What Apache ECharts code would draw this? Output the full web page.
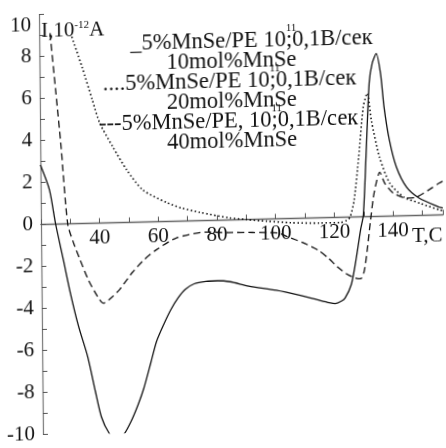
<!DOCTYPE html>
<html>
<head>
<meta charset="utf-8">
<script src="https://cdn.jsdelivr.net/npm/echarts@6/dist/echarts.min.js"></script>
<style>
  html, body { margin: 0; padding: 0; background: #fff; }
  /* the scanned figure is slightly skewed, follow it */
  #mychart {
    width: 446px;
    height: 448px;
    transform-origin: 41px 224.5px;
    transform: matrix(1, -0.024, 0.0094, 1, 0, 0);
  }
</style>
</head>
<body>
<div id="mychart"></div>
<script>
// 10 mol% MnSe (solid)
var tempA = [20, 23, 25, 27.5, 29.8, 32.5, 35.5, 38, 40, 42.5, 45, 47.5, 50, 52.5, 54.5, 57, 59, 61.5, 64, 66.5, 69, 72, 76, 80, 84.2, 90.6, 100, 107.5, 114, 118, 120, 122, 123.4, 125.6, 127.3, 128.9, 129.9, 131, 132.3, 133.4, 134.8, 136.2, 137.3, 139, 141.3, 144.7, 149, 155.8, 157];
var curA  = [2.83, 1.64, 0, -1.7, -3.3, -4.9, -6.35, -8.0, -9.24, -10.0, -10.3, -10.1, -9.5, -8.7, -7.93, -6.7, -5.7, -4.9, -4.2, -3.65, -3.25, -3.0, -2.9, -2.88, -2.94, -3.17, -3.4, -3.65, -3.9, -4.05, -4.1, -4.0, -3.85, -3.2, -2.0, -0.62, 0.08, 2.9, 6.36, 7.3, 7.76, 6.8, 5.2, 3.62, 2.33, 1.36, 0.82, 0.37, 0.33];

// 20 mol% MnSe (dotted)
var tempB = [31.1, 34.5, 37.9, 40.3, 44.7, 49.4, 54.8, 62.9, 68, 74, 84.2, 90, 97, 105, 115, 122, 124.2, 125.4, 126.8, 128.5, 130.2, 131.6, 132.9, 135.6, 139, 143.8, 149.2, 156, 157];
var curB  = [8.9, 7.45, 5.87, 4.78, 3.62, 2.5, 1.53, 0.9, 0.62, 0.4, 0.1, 0.0, -0.1, -0.2, -0.25, -0.25, -0.15, 0.0, 0.8, 2.85, 5.22, 5.87, 4.6, 2.82, 1.57, 0.88, 0.58, 0.23, 0.2];

// 40 mol% MnSe (dashed)
var tempC = [23.7, 25.5, 27.1, 29.1, 31, 33.2, 36, 39, 41, 44.3, 46.7, 51.1, 55, 59.2, 66, 76.2, 84, 92, 100.8, 104.2, 109, 114.3, 118, 121, 124, 126.8, 128.8, 130, 131.1, 132.2, 133.4, 134.4, 135.6, 137.3, 140.3, 144.7, 148.1, 152.5, 155.8, 157];
var curC  = [9.1, 6.25, 3.67, 0, -0.9, -1.72, -2.7, -3.48, -3.82, -3.5, -3.17, -2.37, -1.8, -1.34, -0.8, -0.55, -0.6, -0.62, -0.68, -0.88, -1.15, -1.53, -1.95, -2.37, -2.7, -2.9, -2.95, -2.6, -1.6, -0.32, 0.94, 1.6, 2.1, 1.57, 1.08, 0.84, 0.88, 1.22, 1.51, 1.6];

var xLabels = [40, 60, 80, 100, 120, 140];
// each legend line: text before superscript, superscript, text after
var legendLines = [
  ['_5%MnSe/PE 10', '11', ';0,1B/сек'],
  ['10mol%MnSe', '', ''],
  ['....5%MnSe/PE 10', '11', ';0,1B/сек'],
  ['20mol%MnSe', '', ''],
  ['---5%MnSe/PE, 10', '11', ';0,1B/сек'],
  ['40mol%MnSe', '', '']
];

function pairs(t, v) {
  var out = [];
  for (var i = 0; i < t.length; i++) out.push([t[i], v[i]]);
  return out;
}

var serif = 'Liberation Serif';
var ink = '#111';
var legendSize = 22.5;
var ctx = document.createElement('canvas').getContext('2d');
ctx.font = legendSize + 'px "' + serif + '"';

var legendX = [132, 168, 104, 168, 100, 168];
var graphic = [];
for (var i = 0; i < legendLines.length; i++) {
  var ln = legendLines[i];
  var y = 46 + i * 20;
  graphic.push({
    type: 'text', x: legendX[i], y: y,
    style: { text: ln[0] + ln[2], fontFamily: serif, fontSize: legendSize, fill: ink,
      align: 'left', verticalAlign: 'middle' }
  });
  if (ln[1]) {
    graphic.push({
      type: 'text', x: legendX[i] + ctx.measureText(ln[0]).width, y: y - 12,
      style: { text: ln[1], fontFamily: serif, fontSize: 11, fill: ink,
        align: 'left', verticalAlign: 'middle' }
    });
  }
}
graphic.push({
  type: 'text', x: 43, y: 31,
  style: { text: 'I,10{s|-12}A', fontFamily: serif, fontSize: 21, fill: ink,
    align: 'left', verticalAlign: 'middle',
    rich: { s: { fontSize: 11, fontFamily: serif, verticalAlign: 'top', lineHeight: 10, fill: ink } } }
});
graphic.push({
  type: 'text', x: 412, y: 245,
  style: { text: 'T,C', fontFamily: serif, fontSize: 21, fill: ink, align: 'left', verticalAlign: 'middle' }
});

var mychart = echarts.init(document.getElementById('mychart'));
var option = {
  animation: false,
  grid: { left: 41, width: 406, top: 14.5, bottom: 13.5 },
  graphic: graphic,
  xAxis: {
    type: 'value', min: 20, max: 157, interval: 10,
    offset: -210,
    axisLine: { onZero: false, lineStyle: { color: '#666', width: 1.4 } },
    axisTick: { inside: true, length: 5, lineStyle: { color: '#555' } },
    splitLine: { show: false },
    axisLabel: {
      margin: 4, fontFamily: serif, fontSize: 21, color: ink,
      formatter: function (v) { return xLabels.indexOf(v) >= 0 ? String(v) : ''; }
    }
  },
  yAxis: {
    type: 'value', min: -10, max: 10, interval: 2,
    axisLine: { lineStyle: { color: '#777', width: 1.2 } },
    axisTick: { inside: true, length: 5, lineStyle: { color: '#555' } },
    minorTick: { show: true, splitNumber: 2, length: 5, lineStyle: { color: '#555' } },
    splitLine: { show: false },
    axisLabel: { margin: 8, fontFamily: serif, fontSize: 21, color: ink, verticalAlignMaxLabel: 'top' }
  },
  series: [
    { name: '10mol%MnSe', type: 'line', data: pairs(tempA, curA), showSymbol: false, smooth: 0.25,
      lineStyle: { color: ink, width: 1.3 } },
    { name: '20mol%MnSe', type: 'line', data: pairs(tempB, curB), showSymbol: false, smooth: 0.25,
      lineStyle: { color: ink, width: 1.6, type: [1.5, 2.5] } },
    { name: '40mol%MnSe', type: 'line', data: pairs(tempC, curC), showSymbol: false, smooth: 0.25,
      lineStyle: { color: ink, width: 1.3, type: [7, 4] } }
  ]
};
mychart.setOption(option);
</script>
</body>
</html>
